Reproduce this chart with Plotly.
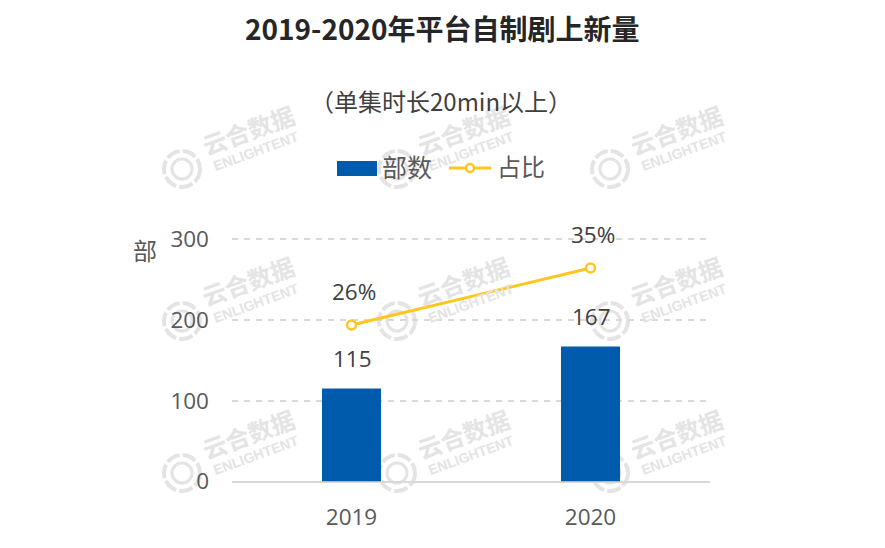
# 2019-2020 platform self-made drama chart
import plotly.graph_objs as go

categories = ['2019', '2020']
counts = [115, 167]
shares = [26, 35]
count_ticks = [0, 100, 200, 300]

FONT = 'Open Sans, Noto Sans CJK SC, sans-serif'
CJK = 'Noto Sans CJK SC, sans-serif'
BLUE = '#005BAC'
YELLOW = '#FFC61E'
TEXT = '#404040'
GREY = '#595959'
WM = '#E4E4E4'
W, H = 885, 548
BODY = 8  # page margin around the plot div


def px(x):
    return (x - BODY) / W


def py(y):
    return 1 - (y - BODY) / H


def note(text, x, y, size, color=TEXT, font=CJK, angle=0):
    return dict(text=text, x=px(x), y=py(y), xref='paper', yref='paper',
                showarrow=False, xanchor='center', yanchor='middle',
                textangle=angle, font=dict(size=size, color=color, family=font))


bars = go.Bar(x=categories, y=counts, width=0.247, marker=dict(color=BLUE, line=dict(width=0)),
              showlegend=False, hoverinfo='skip')

line = go.Scatter(x=categories, y=shares, yaxis='y2', mode='lines+markers',
                  line=dict(color=YELLOW, width=3),
                  marker=dict(size=9, color='white', line=dict(color=YELLOW, width=2.5)),
                  showlegend=False, hoverinfo='skip')

shapes = []
annotations = []

# Watermark repeated over the plot
for cy in [169, 321, 473]:
    for cx in [182, 397, 610]:
        for r, w, dash in [(18, 4, '14px,3px'), (10, 3, 'solid')]:
            shapes.append(dict(type='circle', xref='paper', yref='paper', layer='below',
                               x0=px(cx - r), x1=px(cx + r), y0=py(cy + r), y1=py(cy - r),
                               line=dict(color=WM, width=w, dash=dash)))
        annotations.append(note('<b>云合数据</b>', cx + 66, cy - 40, 24, WM, CJK, -20))
        annotations.append(note('<b>ENLIGHTENT</b>', cx + 74, cy - 18, 14, WM, 'Liberation Sans', -20))

# Legend, drawn by hand because the swatches are wider than plotly's
shapes.append(dict(type='rect', xref='paper', yref='paper', x0=px(337), x1=px(377),
                   y0=py(176), y1=py(161), fillcolor=BLUE, line=dict(width=0)))
shapes.append(dict(type='line', xref='paper', yref='paper', x0=px(449), x1=px(491),
                   y0=py(168), y1=py(168), line=dict(color=YELLOW, width=3)))
shapes.append(dict(type='circle', xref='paper', yref='paper', x0=px(466), x1=px(474),
                   y0=py(172), y1=py(164), fillcolor='white', line=dict(color=YELLOW, width=2.5)))
annotations.append(note('部数', 407, 166, 25, GREY))
annotations.append(note('占比', 521, 166, 24, GREY))

annotations.append(note('<b>2019-2020年平台自制剧上新量</b>', 442, 28, 28, '#262626'))
annotations.append(note('（单集时长20min以上）', 441, 100, 24, TEXT))
annotations.append(note('部', 145, 249, 24, GREY))

# Data labels sit well above their marks
for i, val in enumerate(counts):
    annotations.append(dict(text=str(val), x=i, y=val, xref='x', yref='y', yshift=30, xshift=1,
                            showarrow=False, font=dict(size=22.5, color=TEXT, family=FONT)))
for i, val in enumerate(shares):
    annotations.append(dict(text='%d%%' % val, x=i, y=val, xref='x', yref='y2', yshift=34, xshift=2,
                            showarrow=False, font=dict(size=22.5, color=TEXT, family=FONT)))

layout = go.Layout(
    width=W, height=H,
    margin=dict(l=0, r=0, t=0, b=0),
    paper_bgcolor='white', plot_bgcolor='rgba(0,0,0,0)',
    showlegend=False,
    xaxis=dict(domain=[px(232), px(710)], type='category', range=[-0.5, 1.5], automargin=False,
               showgrid=False, zeroline=False, showline=False, ticks='',
               ticklabelstandoff=20,
               tickfont=dict(size=22.5, color=GREY, family=FONT)),
    # range runs a little past 300 or plotly drops the top gridline
    yaxis=dict(domain=[py(481.5), py(235.8)], range=[0, 304], tickvals=count_ticks, automargin=False,
               showgrid=True, gridcolor='#D9D9D9', gridwidth=1.5, griddash='6px,6px',
               zeroline=True, zerolinecolor='#D9D9D9', zerolinewidth=2,
               showline=False, ticks='', ticklabelstandoff=22,
               tickfont=dict(size=22.5, color=GREY, family=FONT)),
    yaxis2=dict(overlaying='y', side='right', range=[1.3, 40.09], visible=False, automargin=False),
    shapes=shapes,
    annotations=annotations,
)

fig = go.Figure([bars, line], layout=layout)
fig.write_html("out.html")
